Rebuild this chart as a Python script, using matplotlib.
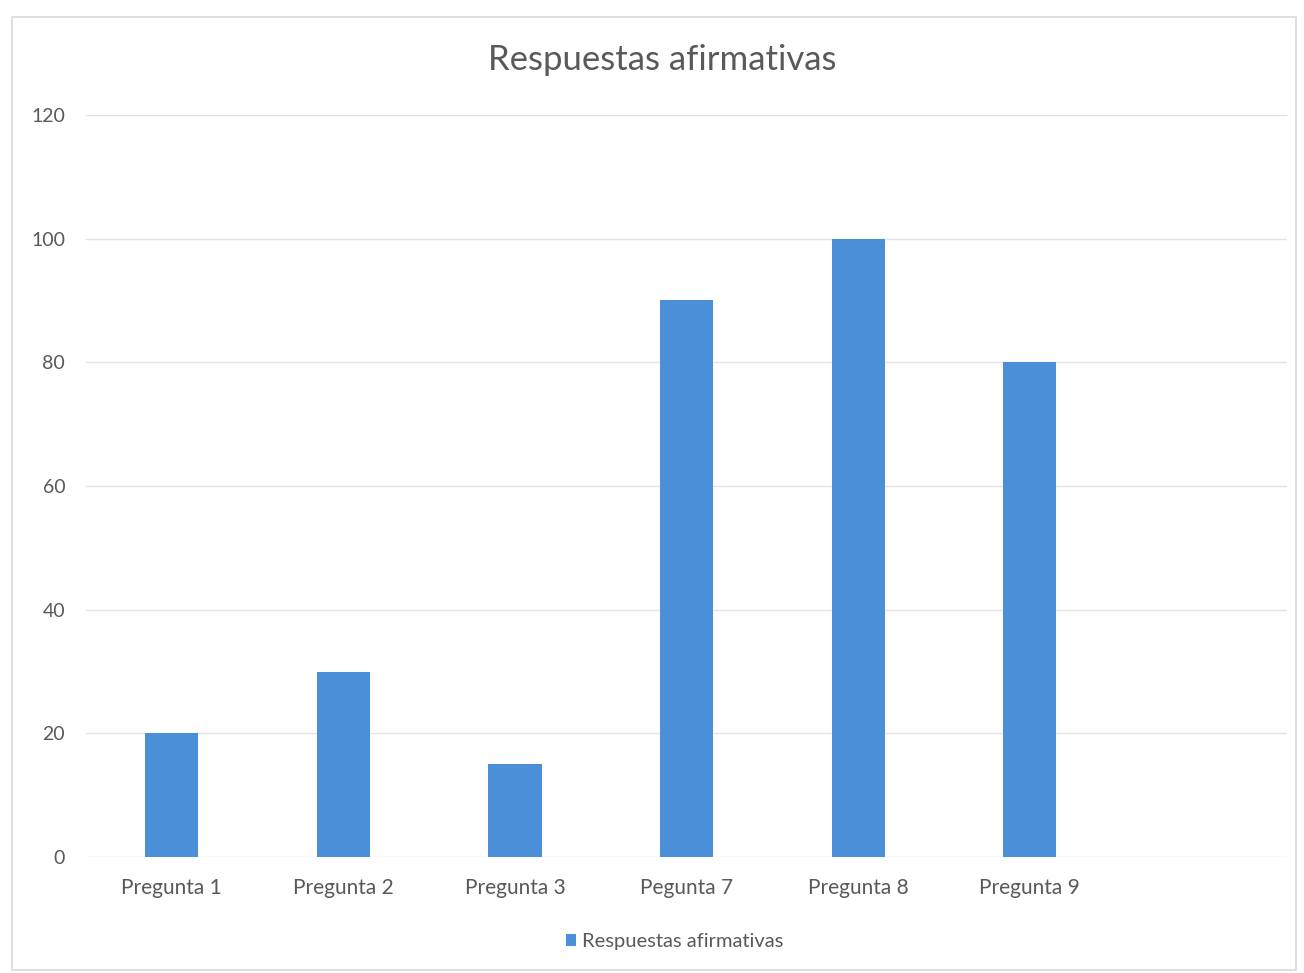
import matplotlib
matplotlib.use("Agg")
import matplotlib.pyplot as plt
from matplotlib.patches import Rectangle

# data
categories = ["Pregunta 1", "Pregunta 2", "Pregunta 3", "Pegunta 7", "Pregunta 8", "Pregunta 9"]
values = [20, 30, 15, 90, 100, 80]
y_ticks = [0, 20, 40, 60, 80, 100, 120]
series_name = "Respuestas afirmativas"

bar_color = "#4a8fd8"
text_color = "#595959"

plt.rcParams['font.family'] = ['Lato', 'DejaVu Sans']

fig = plt.figure(figsize=(13.04, 9.73), dpi=100)
ax = fig.add_axes([0.066, 0.119, 0.921, 0.763])

# outer chart frame
fig.patches.append(Rectangle((0.009, 0.003), 0.985, 0.98, transform=fig.transFigure,
                             fill=False, edgecolor="#d9d9d9", linewidth=1.2))

x = list(range(len(categories)))
ax.bar(x, values, width=0.31, color=bar_color, label=series_name, zorder=3)

ax.set_xlim(-0.5, 6.5)
ax.set_ylim(0, 120)
ax.set_yticks(y_ticks)
ax.set_xticks(x)
ax.set_xticklabels(categories)
ax.tick_params(axis='both', length=0, colors=text_color)
ax.tick_params(axis='x', labelsize=15, pad=15)
ax.tick_params(axis='y', labelsize=14, pad=15)
ax.grid(axis='y', color="#e3e3e3", linewidth=1, zorder=0)
for s in ax.spines.values():
    s.set_visible(False)

fig.text(0.508, 0.938, series_name, ha='center', va='center', fontsize=25, color=text_color)

leg = ax.legend(loc='upper center', bbox_to_anchor=(0.49, -0.078), frameon=False,
                fontsize=14.5, handlelength=0.5, handleheight=0.5, handletextpad=0.3)
for t in leg.get_texts():
    t.set_color(text_color)

fig.savefig("out.png", dpi=100)
